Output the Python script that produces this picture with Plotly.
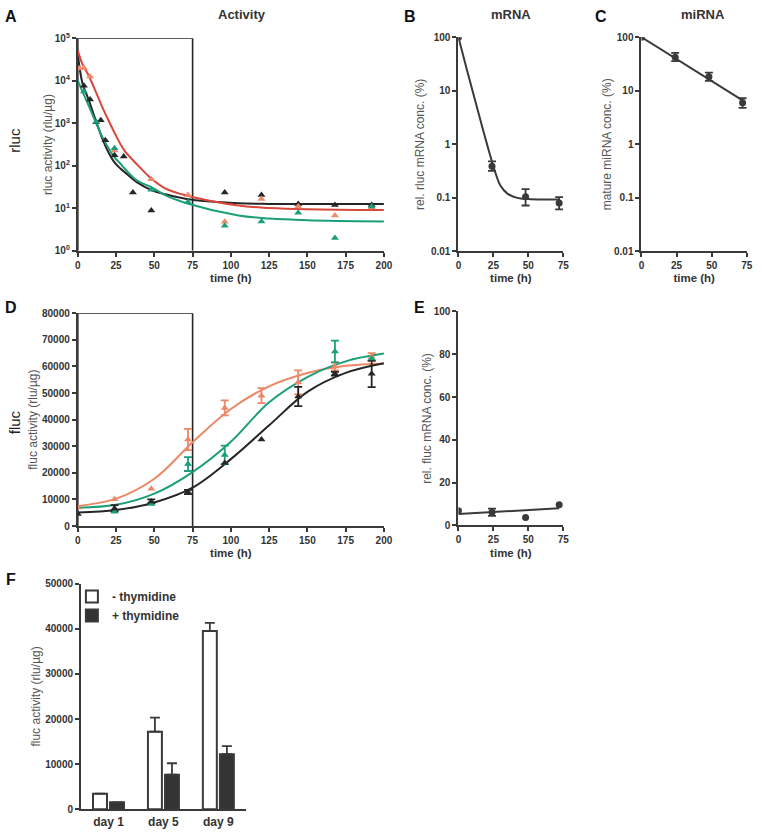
import plotly.graph_objects as go

# ---------------- data ----------------
# Panel A: rluc activity (log)
A_black_t = [4, 8, 12, 15, 18, 24, 30, 36, 48, 96, 120, 144, 168, 192]
A_black_v = [7600, 3600, 1050, 1175, 400, 176, 166, 23.7, 8.9, 23.7, 20.5, 12.7, 11.9, 11.9]
A_red_t = [1, 4, 8, 24, 48, 72, 96, 120, 144, 168, 192]
A_red_v = [19500, 20000, 12500, 230, 48, 20.5, 4.8, 16.5, 11, 6.8, 10.5]
A_green_t = [4, 12, 24, 48, 72, 96, 120, 144, 168, 192]
A_green_v = [5600, 1070, 260, 27.5, 14, 3.9, 4.9, 7.9, 2.0, 11]
# fitted curves
A_fit_t = [0, 3, 7, 12, 16, 20, 24, 28, 31, 39, 48, 57, 71, 105, 125, 150, 200]
A_fit_black_v = [42700, 8900, 3630, 1100, 437, 209, 120, 85, 69, 40, 27, 21.4, 16.6, 13.2, 12.7, 12.6, 12.6]
A_fit_red_v = [51000, 24500, 13500, 5250, 2400, 1175, 600, 316, 215, 105, 50, 29.5, 20, 11.6, 10.2, 9.5, 9.1]
A_fit_green_v = [10000, 5620, 2630, 1000, 479, 263, 158, 110, 83, 44, 31.6, 20.4, 13.2, 6.8, 5.75, 5.25, 4.9]
A_box_t = [0, 75]
A_box_v = [1, 100000]

# Panel B: rel. rluc mRNA
B_t = [0, 24, 48, 72]
B_v = [100, 0.39, 0.105, 0.080]
B_err_up = [0, 0.09, 0.041, 0.023]
B_err_dn = [0, 0.07, 0.033, 0.019]
B_fit_t = [0, 6, 12, 18, 22, 26, 30, 35, 42, 50, 60, 72]
B_fit_v = [100, 25, 6.5, 1.7, 0.72, 0.32, 0.17, 0.12, 0.1, 0.095, 0.093, 0.093]

# Panel C: mature miRNA
C_t = [0, 24, 48, 72]
C_v = [100, 42.4, 18.2, 5.97]
C_err_up = [0, 8.4, 3.6, 1.28]
C_err_dn = [0, 6.7, 2.9, 1.17]
C_fit_t = [0, 72]
C_fit_v = [100, 6.6]

# Panel D: fluc activity
D_red_t = [0, 24, 48, 72, 96, 120, 144, 168, 192]
D_red_v = [7000, 10100, 14000, 32500, 44400, 49000, 54000, 60000, 63500]
D_red_e = [0, 0, 0, 4000, 2800, 2800, 4500, 1500, 1500]
D_green_t = [24, 48, 72, 96, 168, 192]
D_green_v = [5400, 8250, 23300, 26750, 65600, 63000]
D_green_e = [0, 0, 2600, 3500, 4100, 0]
D_black_t = [0, 24, 48, 72, 96, 120, 144, 168, 192]
D_black_v = [4550, 6650, 9240, 12800, 23700, 32550, 48700, 57200, 57200]
D_black_e = [0, 1200, 800, 800, 0, 0, 3600, 700, 5000]
D_fit_t = [0, 25, 50, 75, 100, 125, 150, 175, 200]
D_fit_red = [7500, 10300, 17800, 31500, 44000, 52500, 57500, 60200, 61000]
D_fit_green = [6900, 8000, 12200, 20300, 31700, 46500, 56000, 61900, 64800]
D_fit_black = [5100, 6030, 8880, 14430, 25150, 37850, 50430, 57570, 61200]
D_box_t = [0, 75]
D_box_v = [0, 80000]

# Panel E: rel. fluc mRNA
E_t = [0, 24, 48, 72]
E_v = [6.9, 6.2, 3.7, 9.7]
E_err = [0, 1.7, 0, 0]
E_fit_t = [0, 72]
E_fit_v = [5.4, 8.0]

# Panel F: bars
F_cats = ["day 1", "day 5", "day 9"]
F_minus = [3450, 17200, 39500]
F_minus_err = [0, 3100, 1800]
F_plus = [1550, 7650, 12200]
F_plus_err = [0, 2550, 1800]
F_names = ["- thymidine", "+ thymidine"]

# ---------------- style ----------------
W, H = 763, 834
BLACK = "#262626"
RED_LINE = "#d8473c"
SALMON = "#f0896c"
SALMON_D = "#ec8867"
GREEN = "#1c9f79"
AX = "#3a3a3a"
FONT = "Liberation Sans, Arial, sans-serif"


def xd(a, b):
    return [a / W, b / W]


def yd(top, bottom):
    return [1 - bottom / H, 1 - top / H]


fig = go.Figure()


def line(x, y, color, xa, ya, width=2, shape="spline"):
    fig.add_trace(go.Scatter(x=x, y=y, mode="lines", line=dict(color=color, width=width, shape=shape),
                             xaxis=xa, yaxis=ya, showlegend=False, hoverinfo="skip"))


def pts(x, y, color, xa, ya, symbol="triangle-up", size=7):
    fig.add_trace(go.Scatter(x=x, y=y, mode="markers", marker=dict(color=color, symbol=symbol, size=size),
                             xaxis=xa, yaxis=ya, showlegend=False))


def errs(x, y, up, dn, color, xa, ya):
    sx = [a for a, u in zip(x, up) if u > 0]
    sy = [b for b, u in zip(y, up) if u > 0]
    su = [u for u in up if u > 0]
    sd = [d for d, u in zip(dn, up) if u > 0]
    fig.add_trace(go.Scatter(x=sx, y=sy, mode="markers", marker=dict(color=color, size=1),
                             error_y=dict(type="data", symmetric=False, array=su, arrayminus=sd,
                                          color=color, thickness=1.8, width=4),
                             xaxis=xa, yaxis=ya, showlegend=False))


# Panel A
fig.add_trace(go.Scatter(x=[A_box_t[0], A_box_t[0], A_box_t[1], A_box_t[1]],
                         y=[A_box_v[0], A_box_v[1], A_box_v[1], A_box_v[0]],
                         mode="lines", line=dict(color=BLACK, width=1.6), xaxis="x", yaxis="y",
                         showlegend=False, hoverinfo="skip"))
line(A_fit_t, A_fit_black_v, BLACK, "x", "y")
line(A_fit_t, A_fit_red_v, RED_LINE, "x", "y")
line(A_fit_t, A_fit_green_v, GREEN, "x", "y")
pts(A_black_t, A_black_v, BLACK, "x", "y")
pts(A_red_t, A_red_v, SALMON, "x", "y")
pts(A_green_t, A_green_v, GREEN, "x", "y")

# Panel B
line(B_fit_t, B_fit_v, AX, "x2", "y2")
errs(B_t, B_v, B_err_up, B_err_dn, AX, "x2", "y2")
pts(B_t, B_v, AX, "x2", "y2", symbol="circle", size=7)

# Panel C
line(C_fit_t, C_fit_v, AX, "x3", "y3", shape="linear")
errs(C_t, C_v, C_err_up, C_err_dn, AX, "x3", "y3")
pts(C_t, C_v, AX, "x3", "y3", symbol="circle", size=7)

# Panel D
fig.add_trace(go.Scatter(x=[D_box_t[0], D_box_t[0], D_box_t[1], D_box_t[1]],
                         y=[D_box_v[0], D_box_v[1], D_box_v[1], D_box_v[0]],
                         mode="lines", line=dict(color=BLACK, width=1.6), xaxis="x4", yaxis="y4",
                         showlegend=False, hoverinfo="skip"))
line(D_fit_t, D_fit_red, SALMON_D, "x4", "y4")
line(D_fit_t, D_fit_green, GREEN, "x4", "y4")
line(D_fit_t, D_fit_black, BLACK, "x4", "y4")
errs(D_red_t, D_red_v, D_red_e, D_red_e, SALMON_D, "x4", "y4")
errs(D_green_t, D_green_v, D_green_e, D_green_e, GREEN, "x4", "y4")
errs(D_black_t, D_black_v, D_black_e, D_black_e, BLACK, "x4", "y4")
pts(D_red_t, D_red_v, SALMON_D, "x4", "y4")
pts(D_green_t, D_green_v, GREEN, "x4", "y4")
pts(D_black_t, D_black_v, BLACK, "x4", "y4")

# Panel E
line(E_fit_t, E_fit_v, AX, "x5", "y5", shape="linear")
errs(E_t, E_v, E_err, E_err, AX, "x5", "y5")
pts(E_t, E_v, AX, "x5", "y5", symbol="circle", size=7)

# Panel F
fig.add_trace(go.Bar(x=F_cats, y=F_minus, name=F_names[0], xaxis="x6", yaxis="y6",
                     marker=dict(color="white", line=dict(color=AX, width=2)),
                     error_y=dict(type="data", symmetric=False, array=F_minus_err,
                                  arrayminus=[0, 0, 0], color=AX, thickness=1.8, width=5)))
fig.add_trace(go.Bar(x=F_cats, y=F_plus, name=F_names[1], xaxis="x6", yaxis="y6",
                     marker=dict(color="#333333", line=dict(color=AX, width=2)),
                     error_y=dict(type="data", symmetric=False, array=F_plus_err,
                                  arrayminus=[0, 0, 0], color=AX, thickness=1.8, width=5)))

# ---------------- axes ----------------
tickfont = dict(family=FONT, size=10, color="#333333", weight="bold")
xtitlefont = dict(family=FONT, size=11.5, color="#333333", weight="bold")
ytitlefont = dict(family=FONT, size=12, color="#555555")


def axis(**kw):
    base = dict(showline=True, linecolor=AX, linewidth=2, ticks="outside", ticklen=4, tickwidth=2,
                tickcolor=AX, showgrid=False, zeroline=False, tickfont=tickfont, mirror=False,
                ticklabeloverflow="allow")
    base.update(kw)
    return base


t200 = [0, 25, 50, 75, 100, 125, 150, 175, 200]
t75 = [0, 25, 50, 75]
logA_vals = [1, 10, 100, 1000, 10000, 100000]
logA_text = ["10<sup>0</sup>", "10<sup>1</sup>", "10<sup>2</sup>", "10<sup>3</sup>", "10<sup>4</sup>", "10<sup>5</sup>"]
logB_vals = [0.01, 0.1, 1, 10, 100]
logB_text = ["0.01", "0.1", "1", "10", "100"]

fig.update_layout(
    width=W, height=H, margin=dict(l=0, r=0, t=0, b=0),
    paper_bgcolor="white", plot_bgcolor="white",
    font=dict(family=FONT, color="#333333"),
    barmode="group", bargap=0.38, bargroupgap=0.18,
    xaxis=axis(domain=xd(76, 387), anchor="y", range=[0, 200], tickvals=t200,
               title=dict(text="time (h)", font=xtitlefont, standoff=4)),
    yaxis=axis(domain=yd(31.7, 247.7), anchor="x", type="log", range=[0, 5],
               tickvals=logA_vals, ticktext=logA_text,
               title=dict(text="rluc activity (rlu/µg)", font=ytitlefont, standoff=0)),
    xaxis2=axis(domain=xd(462.7, 569.3), anchor="y2", range=[0, 75], tickvals=t75,
                title=dict(text="time (h)", font=xtitlefont, standoff=4)),
    yaxis2=axis(domain=yd(30.7, 248.3), anchor="x2", type="log", range=[-2, 2],
                tickvals=logB_vals, ticktext=logB_text,
                title=dict(text="rel. rluc mRNA conc. (%)", font=ytitlefont, standoff=4)),
    xaxis3=axis(domain=xd(648.7, 755.7), anchor="y3", range=[0, 75], tickvals=t75,
                title=dict(text="time (h)", font=xtitlefont, standoff=4)),
    yaxis3=axis(domain=yd(30.7, 248.3), anchor="x3", type="log", range=[-2, 2],
                tickvals=logB_vals, ticktext=logB_text,
                title=dict(text="mature miRNA conc. (%)", font=ytitlefont, standoff=0)),
    xaxis4=axis(domain=xd(76, 387), anchor="y4", range=[0, 200], tickvals=t200,
                title=dict(text="time (h)", font=xtitlefont, standoff=4)),
    yaxis4=axis(domain=yd(311, 527.3), anchor="x4", range=[0, 80000], dtick=10000, tickformat="d",
                title=dict(text="fluc activity (rlu/µg)", font=ytitlefont, standoff=2)),
    xaxis5=axis(domain=xd(462.7, 569.3), anchor="y5", range=[0, 75], tickvals=t75,
                title=dict(text="time (h)", font=xtitlefont, standoff=4)),
    yaxis5=axis(domain=yd(309.3, 526.7), anchor="x5", range=[0, 100], dtick=20,
                title=dict(text="rel. fluc mRNA conc. (%)", font=ytitlefont, standoff=0)),
    xaxis6=axis(domain=xd(79.3, 246.7), anchor="y6", ticks="",
                tickfont=dict(family=FONT, size=12, color="#333333", weight="bold")),
    yaxis6=axis(domain=yd(585.7, 815), anchor="x6", range=[0, 50000], dtick=10000, tickformat="d",
                title=dict(text="fluc activity (rlu/µg)", font=ytitlefont, standoff=2)),
    legend=dict(x=70 / W, y=1 - 584 / H, xanchor="left", yanchor="top", bgcolor="rgba(0,0,0,0)",
                font=dict(family=FONT, size=12, color="#333333", weight="bold"), itemwidth=30,
                tracegroupgap=0),
    showlegend=True,
)

# ---------------- annotations ----------------
ann = []


def text(x, y, s, size, bold=True, angle=0, xanchor="center", color="#111111"):
    ann.append(dict(x=x / W, y=1 - y / H, xref="paper", yref="paper", text=s, showarrow=False,
                    xanchor=xanchor, yanchor="middle", textangle=angle,
                    font=dict(family=FONT, size=size, color=color, weight="bold" if bold else "normal")))


text(8, 10, "A", 16)
text(243, 8, "Activity", 13, color="#333333")
text(413, 10, "B", 16)
text(516, 8, "mRNA", 13, color="#333333")
text(608, 10, "C", 16)
text(711, 8, "miRNA", 13, color="#333333")
text(8, 305, "D", 16)
text(423.5, 305, "E", 16)
text(8, 582, "F", 16)
text(12, 135, "rluc", 15, bold=False, angle=-90, color="#222222")
text(12, 422, "fluc", 15, bold=False, angle=-90, color="#222222")
fig.update_layout(annotations=ann)

fig.write_html("out.html", config={"displayModeBar": False},
               post_script="document.body.style.margin='0';document.body.style.overflow='hidden';")
